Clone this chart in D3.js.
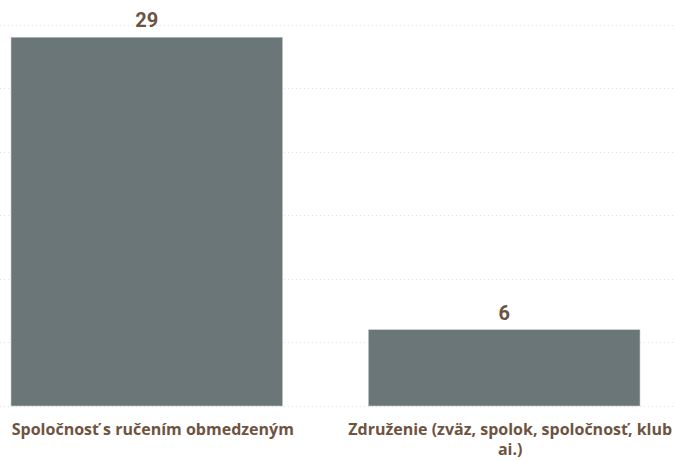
<!DOCTYPE html>
<html>
<head>
<meta charset="utf-8">
<script src="https://cdn.jsdelivr.net/npm/d3@7"></script>
<style>
  body { margin: 0; background: #fff; }
  .val { font-family: Roboto, sans-serif; font-weight: 700; font-size: 20px; fill: #6b5442; }
  .cat { font-family: "Open Sans", sans-serif; font-weight: 700; font-size: 16px; fill: #6e5440; }
</style>
</head>
<body>
<div id="main"></div>
<script>
var categories = ["Spoločnosť s ručením obmedzeným", "Združenie (zväz, spolok, spoločnosť, klub ai.)"];
var counts = [29, 6];
var yTicks = [0, 5, 10, 15, 20, 25, 30];

var w = 676, h = 461;
var svg = d3.select("#main").append("svg").attr("width", w).attr("height", h);

var x = d3.scaleBand().domain(categories).range([11, 640]).paddingInner(0.24).paddingOuter(0);
var y = d3.scaleLinear().domain([0, 30]).range([406, 24.5]);

// dotted gridlines
svg.append("g").selectAll("line").data(yTicks).join("line")
    .attr("x1", 0).attr("x2", w)
    .attr("y1", d => Math.round(y(d)) + 0.5).attr("y2", d => Math.round(y(d)) + 0.5)
    .attr("stroke", "#e0e0e0").attr("stroke-width", 1)
    .attr("stroke-dasharray", "1,3");

var data = categories.map((c, i) => ({ cat: c, val: counts[i] }));

svg.append("g").selectAll("rect").data(data).join("rect")
    .attr("x", d => x(d.cat))
    .attr("y", d => y(d.val))
    .attr("width", x.bandwidth())
    .attr("height", d => y(0) - y(d.val))
    .attr("fill", "#6b7679")
    .attr("stroke", "#c9cdce").attr("stroke-width", 0.6);

svg.append("g").selectAll("text").data(data).join("text")
    .attr("class", "val")
    .attr("x", d => x(d.cat) + x.bandwidth() / 2)
    .attr("y", d => y(d.val) - 10)
    .attr("text-anchor", "middle")
    .text(d => d.val);

// category labels, wrapped (sit a little right of the bar centre)
var labels = svg.append("g").selectAll("text").data(data).join("text")
    .attr("class", "cat")
    .attr("x", d => x(d.cat) + x.bandwidth() / 2 + 6)
    .attr("y", 435)
    .attr("text-anchor", "middle")
    .text(d => d.cat);

var maxW = 335;
labels.each(function(d) {
    var t = d3.select(this);
    var words = d.cat.split(" ");
    t.text(null);
    var line = [];
    var ts = t.append("tspan").attr("x", t.attr("x")).attr("dy", 0);
    words.forEach(function(wd) {
        line.push(wd);
        ts.text(line.join(" "));
        if (ts.node().getComputedTextLength() > maxW && line.length > 1) {
            line.pop();
            ts.text(line.join(" "));
            line = [wd];
            ts = t.append("tspan").attr("x", t.attr("x")).attr("dy", 20).text(wd);
        }
    });
});
</script>
</body>
</html>
